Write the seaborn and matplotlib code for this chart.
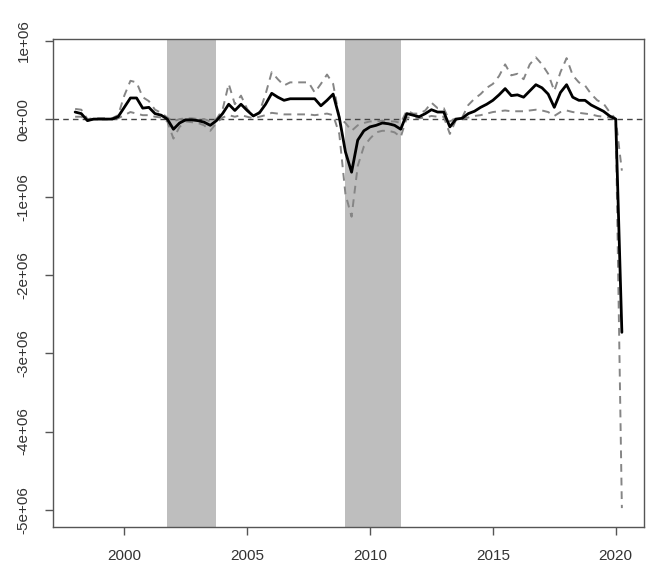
import numpy as np
import pandas as pd
import matplotlib
matplotlib.use("Agg")
import matplotlib.pyplot as plt
from matplotlib.ticker import FuncFormatter
import seaborn as sns

sns.set_theme(style="ticks")
plt.rcParams['font.family'] = ['Liberation Sans', 'DejaVu Sans']

# quarterly data, 1998Q1 .. 2020Q2 (millions)
start_year = 1998
median = [0.09, 0.07, -0.02, 0.00,
          0.00, 0.00, 0.00, 0.03,
          0.15, 0.27, 0.27, 0.14,
          0.15, 0.07, 0.05, 0.00,
          -0.13, -0.05, -0.01, -0.01,
          -0.02, -0.04, -0.08, -0.02,
          0.07, 0.19, 0.11, 0.19,
          0.11, 0.04, 0.08, 0.19,
          0.33, 0.28, 0.24, 0.26,
          0.26, 0.26, 0.26, 0.26,
          0.17, 0.24, 0.32, 0.02,
          -0.42, -0.68, -0.27, -0.15,
          -0.10, -0.08, -0.05, -0.06,
          -0.08, -0.13, 0.07, 0.05,
          0.03, 0.07, 0.12, 0.09,
          0.09, -0.10, 0.00, 0.01,
          0.07, 0.10, 0.15, 0.19,
          0.24, 0.31, 0.39, 0.30,
          0.31, 0.28, 0.36, 0.44,
          0.40, 0.32, 0.15, 0.34,
          0.44, 0.28, 0.24, 0.24,
          0.18, 0.14, 0.10, 0.04,
          0.00, -2.73]
upper = [0.13, 0.12, 0.00, 0.01,
         0.01, 0.01, 0.01, 0.05,
         0.30, 0.49, 0.47, 0.28,
         0.23, 0.12, 0.08, 0.02,
         -0.03, 0.00, 0.01, 0.01,
         0.00, 0.00, -0.03, 0.00,
         0.12, 0.45, 0.19, 0.30,
         0.13, 0.04, 0.09, 0.32,
         0.60, 0.51, 0.43, 0.47,
         0.47, 0.47, 0.47, 0.34,
         0.45, 0.57, 0.45, 0.02,
         -0.05, -0.15, -0.08, -0.05,
         -0.03, -0.03, -0.02, -0.03,
         -0.03, -0.05, 0.11, 0.07,
         0.07, 0.11, 0.21, 0.14,
         0.14, -0.03, 0.01, 0.02,
         0.18, 0.26, 0.32, 0.40,
         0.45, 0.55, 0.70, 0.56,
         0.58, 0.51, 0.70, 0.79,
         0.70, 0.58, 0.36, 0.60,
         0.78, 0.56, 0.47, 0.43,
         0.32, 0.24, 0.20, 0.09,
         0.00, -0.66]
lower = [0.03, 0.03, -0.02, 0.00,
         0.00, 0.00, 0.00, 0.01,
         0.05, 0.09, 0.07, 0.05,
         0.05, 0.03, 0.02, -0.03,
         -0.25, -0.10, -0.03, -0.04,
         -0.05, -0.08, -0.15, -0.05,
         0.02, 0.05, 0.03, 0.05,
         0.03, 0.01, 0.03, 0.05,
         0.08, 0.07, 0.06, 0.06,
         0.06, 0.06, 0.06, 0.05,
         0.06, 0.07, 0.05, -0.19,
         -0.96, -1.25, -0.60, -0.35,
         -0.25, -0.17, -0.15, -0.15,
         -0.17, -0.23, 0.02, 0.02,
         0.01, 0.02, 0.04, 0.03,
         0.03, -0.19, -0.01, 0.00,
         0.02, 0.04, 0.05, 0.07,
         0.09, 0.10, 0.11, 0.10,
         0.10, 0.10, 0.11, 0.12,
         0.11, 0.09, 0.04, 0.09,
         0.11, 0.09, 0.08, 0.07,
         0.06, 0.04, 0.03, 0.02,
         0.00, -4.98]

# shaded periods
shade_periods = [(2001.75, 2003.75), (2009.0, 2011.25)]

n = len(median)
df = pd.DataFrame({
    't': start_year + np.arange(n) / 4,
    'median': np.array(median) * 1e6,
    'upper': np.array(upper) * 1e6,
    'lower': np.array(lower) * 1e6,
})

fig = plt.figure(figsize=(6.67, 5.88), dpi=100)
ax = fig.add_axes([0.0795, 0.104, 0.886, 0.829])

for a, b in shade_periods:
    ax.axvspan(a, b, color='#bebebe', lw=0, zorder=0)

ax.axhline(0, color='#444444', lw=1.0, ls=(0, (4, 3)), zorder=1)

sns.lineplot(data=df, x='t', y='upper', ax=ax, color='#858585', lw=1.4,
             linestyle=(0, (4, 3)), zorder=2)
sns.lineplot(data=df, x='t', y='lower', ax=ax, color='#858585', lw=1.4,
             linestyle=(0, (4, 3)), zorder=2)
sns.lineplot(data=df, x='t', y='median', ax=ax, color='black', lw=2.0, zorder=3)

ax.set_xlim(1997.1, 2021.15)
ax.set_ylim(-5.22e6, 1.02e6)
ax.set_xticks([2000, 2005, 2010, 2015, 2020])
ax.set_yticks([1e6, 0, -1e6, -2e6, -3e6, -4e6, -5e6])
ax.yaxis.set_major_formatter(FuncFormatter(lambda v, p: f"{v:.0e}"))
ax.set_xlabel('')
ax.set_ylabel('')

for s in ax.spines.values():
    s.set_color('#555555')
    s.set_linewidth(1.0)
ax.tick_params(axis='both', direction='out', length=6, width=1.0,
               color='#555555', labelcolor='#333333', labelsize=11, pad=10)
for lab in ax.get_yticklabels():
    lab.set_rotation(90)
    lab.set_va('center')

plt.savefig('out.png', dpi=100)
